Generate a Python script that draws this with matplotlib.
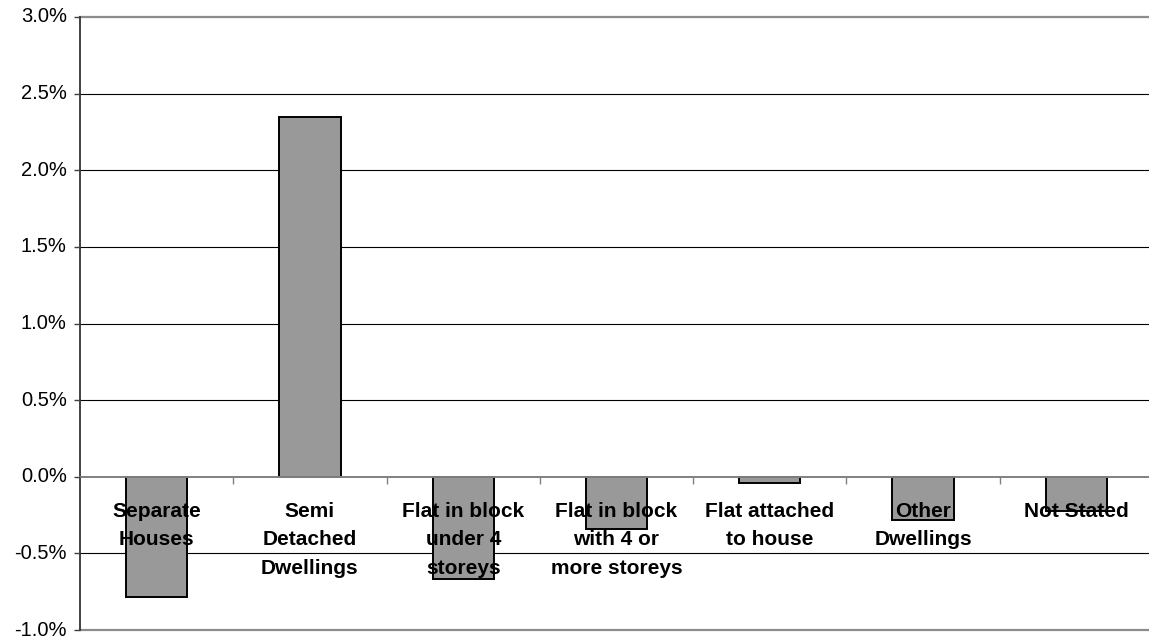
import matplotlib
matplotlib.use("Agg")
import matplotlib.pyplot as plt
from matplotlib.ticker import FuncFormatter, FixedLocator

# Change in share of dwellings by structure type (percentage points)
categories = [
    "Separate\nHouses",
    "Semi\nDetached\nDwellings",
    "Flat in block\nunder 4\nstoreys",
    "Flat in block\nwith 4 or\nmore storeys",
    "Flat attached\nto house",
    "Other\nDwellings",
    "Not Stated",
]
values = [-0.783, 2.345, -0.670, -0.341, -0.041, -0.285, -0.224]
y_ticks = [-1.0, -0.5, 0.0, 0.5, 1.0, 1.5, 2.0, 2.5, 3.0]

plt.rcParams["font.family"] = ["Liberation Sans", "DejaVu Sans"]
plt.rcParams["ytick.alignment"] = "center"

W, H = 1149, 637
fig = plt.figure(figsize=(W / 100, H / 100), dpi=100)
left_px, right_px, top_px, bottom_px = 80, 1153, 17, 630
ax = fig.add_axes([left_px / W, (H - bottom_px) / H,
                   (right_px - left_px) / W, (bottom_px - top_px) / H])

x = list(range(len(categories)))
ax.bar(x, values, width=0.4, color="#999999", edgecolor="black",
       linewidth=1.4, zorder=2)

ax.set_xlim(-0.5, len(categories) - 0.5)
ax.set_ylim(y_ticks[0], y_ticks[-1])

# horizontal gridlines behind the bars; plot-area border at top and bottom
for v in y_ticks:
    if v in (y_ticks[0], y_ticks[-1]):
        ax.axhline(v, color="#8c8c8c", linewidth=1.6, zorder=0, clip_on=False)
    elif v != 0:
        ax.axhline(v, color="black", linewidth=0.8, zorder=0)

# value axis
ax.set_yticks(y_ticks)
ax.yaxis.set_major_formatter(FuncFormatter(lambda v, _: f"{v:.1f}%"))
ax.tick_params(axis="y", direction="out", length=4.5, width=1,
               color="#404040", pad=5, labelsize=14.5)
ax.spines["left"].set_color("#333333")
ax.spines["left"].set_linewidth(1.3)
ax.spines["top"].set_visible(False)
ax.spines["right"].set_visible(False)

# category axis sits on the zero line
ax.spines["bottom"].set_position(("data", 0))
ax.spines["bottom"].set_color("#808080")
ax.spines["bottom"].set_linewidth(1.4)
ax.set_xticks(x)
ax.set_xticklabels(categories, fontsize=15, fontweight="bold")
ax.tick_params(axis="x", which="major", length=0, pad=18)
ax.xaxis.set_minor_locator(FixedLocator([i + 0.5 for i in x[:-1]]))
ax.tick_params(axis="x", which="minor", direction="out", length=5,
               width=1, color="#808080")
for lbl in ax.get_xticklabels():
    lbl.set_linespacing(1.63)

ax.set_axisbelow(False)

fig.savefig("out.png", dpi=100)
